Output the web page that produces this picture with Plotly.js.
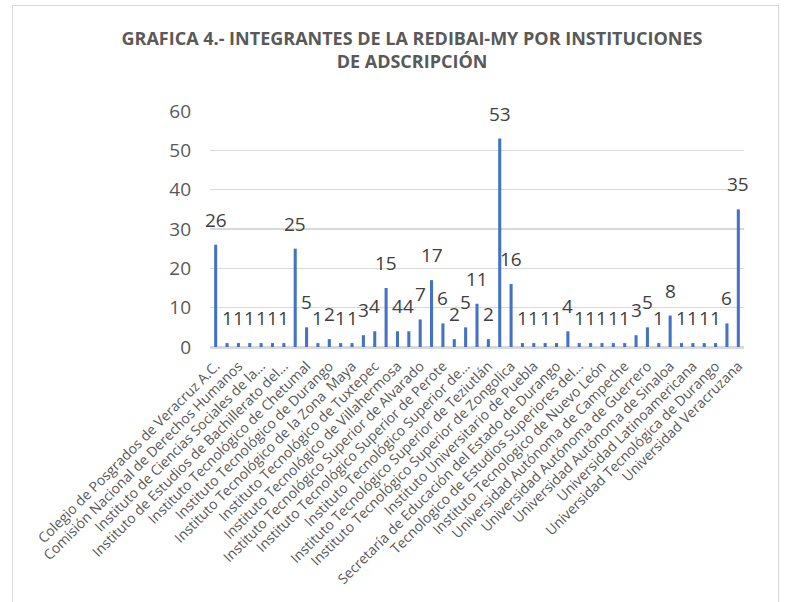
<!DOCTYPE html>
<html>
<head>
<meta charset="utf-8">
<script src="https://cdn.plot.ly/plotly-3.0.1.min.js"></script>
<style>
  html, body { margin: 0; padding: 0; background: #fff; }
  #wrap { position: relative; width: 786px; height: 602px; }
  #chart { width: 786px; height: 602px; }
  #frame { position: absolute; left: 12px; top: 5px; width: 765px; height: 620px;
           border: 1.5px solid #d9d9d9; pointer-events: none; }
</style>
</head>
<body>
<div id="wrap">
  <div id="chart"></div>
  <div id="frame"></div>
</div>
<script>
// Values of the 47 bars, left to right
const values = [26, 1, 1, 1, 1, 1, 1, 25, 5, 1, 2, 1, 1, 3, 4, 15, 4, 4, 7, 17, 6, 2, 5,
                11, 2, 53, 16, 1, 1, 1, 1, 4, 1, 1, 1, 1, 1, 3, 5, 1, 8, 1, 1, 1, 1, 6, 35];

// Category labels shown on the axis (every second category is labelled)
const tickLabels = [
  "Colegio de Posgrados de Veracruz A.C.",
  "Comisión Nacional de Derechos Humanos",
  "Instituto de Ciencias Sociales de la...",
  "Instituto de Estudios de Bachillerato del...",
  "Instituto Tecnológico de Chetumal",
  "Instituto Tecnológico de Durango",
  "Instituto Tecnológico de la Zona  Maya",
  "Instituto Tecnológico de Tuxtepec",
  "Instituto Tecnológico de Villahermosa",
  "Instituto Tecnológico Superior de Alvarado",
  "Instituto Tecnológico Superior de Perote",
  "Instituto Tecnológico Superior de...",
  "Instituto Tecnológico Superior de Teziutlán",
  "Instituto Tecnológico Superior de Zongolica",
  "Instituto Universitario de Puebla",
  "Secretaría de Educación del Estado de Durango",
  "Tecnologico de Estudios Superiores del...",
  "Instituto Tecnologico de Nuevo León",
  "Universidad Autónoma de Campeche",
  "Universidad Autónoma de Guerrero",
  "Universidad Autónoma de Sinaloa",
  "Universidad Latinoamericana",
  "Universidad Tecnológica de Durango",
  "Universidad Veracruzana"
];

const titleText = "GRAFICA 4.- INTEGRANTES DE LA REDIBAI-MY POR INSTITUCIONES<br>DE ADSCRIPCIÓN";

const xs = values.map((v, i) => i);
const tickVals = tickLabels.map((t, i) => i * 2);

const FONT = "Open Sans, sans-serif";

const trace = {
  type: "bar",
  x: xs,
  y: values,
  width: 0.27,
  marker: { color: "#4472C4" },
  hoverinfo: "y"
};

const annotations = values.map((v, i) => ({
  x: i, y: v, xref: "x", yref: "y",
  text: String(v), showarrow: false,
  yanchor: "bottom", yshift: 10,
  font: { family: FONT, size: 19, color: "#404040" }
}));

const layout = {
  width: 786, height: 602,
  margin: { l: 210, r: 42, t: 110.7, b: 254.7 },
  paper_bgcolor: "#ffffff", plot_bgcolor: "#ffffff",
  showlegend: false,
  title: {
    text: titleText,
    font: { family: FONT, size: 18, color: "#595959", weight: "bold" },
    x: 412 / 786, xref: "container", xanchor: "center",
    y: 1 - 45 / 602, yref: "container", yanchor: "top"
  },
  xaxis: {
    range: [-0.5, values.length - 0.5],
    tickmode: "array", tickvals: tickVals, ticktext: tickLabels,
    tickangle: -45,
    tickfont: { family: FONT, size: 14, color: "#595959" },
    showgrid: false, zeroline: false,
    showline: true, linecolor: "#d9d9d9", linewidth: 1.5,
    ticks: "", ticklabelstandoff: 4
  },
  yaxis: {
    range: [0, 60], dtick: 10,
    tickfont: { family: FONT, size: 19, color: "#595959" },
    gridcolor: "#d9d9d9", gridwidth: 1.5,
    zeroline: true, zerolinecolor: "#d9d9d9", zerolinewidth: 1.5,
    ticks: "", ticklabelstandoff: 18
  },
  annotations: annotations
};

Plotly.newPlot("chart", [trace], layout, { displayModeBar: false, staticPlot: true });
</script>
</body>
</html>
